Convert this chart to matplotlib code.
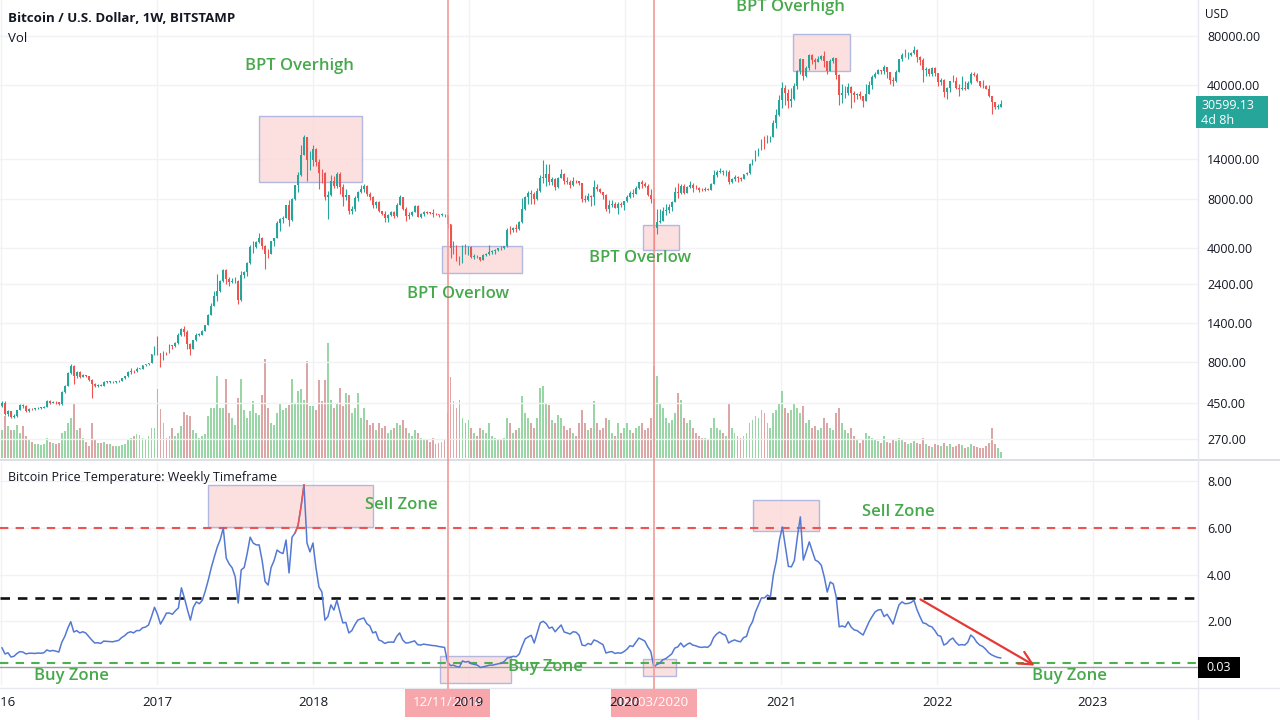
import numpy as np
import pandas as pd
import matplotlib
matplotlib.use("Agg")
import matplotlib.pyplot as plt
import matplotlib.dates as mdates
import matplotlib.transforms as mtrans
from matplotlib.patches import Rectangle, FancyArrowPatch
from matplotlib.lines import Line2D
from matplotlib.ticker import NullLocator

plt.rcParams['font.family'] = ['Open Sans', 'DejaVu Sans']

# ---------------- data (weekly BTC/USD, Bitstamp) ----------------
first_week = '2016-01-04'
first_open = 430

close_2016 = [448,387,403,368,376,407,438,433,400,413,411,417,420,420,428,460,450,459,455,441,525,574,685,762,660,700,650,665,657,625,590,570,582,574,608,607,607,602,612,617,640,657,700,710,704,730,730,765,775,790,895,998]
high_2016 = [462,460,410,404,385,410,445,445,440,420,420,420,425,424,432,466,468,462,460,456,535,580,700,780,765,705,705,680,670,660,630,600,590,585,612,612,612,610,615,620,643,660,705,740,715,745,740,770,780,795,900,1000]
low_2016 = [425,380,375,365,365,370,405,420,395,398,405,408,414,415,418,425,445,448,445,435,440,520,572,680,590,640,640,645,650,615,480,565,565,568,570,600,600,598,598,608,614,635,650,680,690,700,725,728,760,770,788,890]

close_2017 = [908,822,921,920,1015,999,1050,1170,1270,1230,1040,965,1090,1180,1180,1250,1350,1560,1760,2040,2200,2520,2950,2600,2480,2500,2500,1930,2750,2850,3230,4060,4080,4360,4600,4120,3690,3670,4400,4610,5700,6000,6150,7360,5950,8000,9700,11300,15000,19100,13900,13900]
high_2017 = [1150,915,935,925,1030,1020,1060,1200,1290,1330,1260,1050,1100,1210,1200,1260,1360,1570,1850,2200,2760,2550,2980,2990,2650,2620,2680,2560,2900,2900,3280,4180,4450,4400,4980,4680,4200,3950,4420,4620,5860,6150,6300,7400,7890,8100,9800,11700,17200,19700,19200,15800]
low_2017 = [880,750,820,880,915,970,990,1040,1150,1150,960,890,960,1080,1150,1180,1240,1350,1560,1760,1900,2150,2480,2400,2350,2450,2450,1830,1900,2620,2700,3200,3750,4000,4300,3950,2970,3500,3660,4150,4600,5100,5700,6100,5500,5900,7950,8900,11100,15000,10400,12000]

close_2018 = [16200,13600,11600,11500,8200,8500,10400,9600,11400,9500,8200,8450,6800,7000,8100,8900,9250,9650,8650,8250,7350,7700,6800,6500,6150,6350,6700,6300,7400,8200,7000,6300,6400,6700,7250,6250,6500,6700,6620,6600,6500,6450,6400,6400,6350,5600,4000,4100,3550,3250,4000,3900]
high_2018 = [17250,16500,14000,12200,11800,9000,11250,11100,11700,11700,9900,9200,8500,7250,8400,9000,9750,9950,9750,8900,8400,7750,7750,6800,6800,6500,6800,6800,7550,8500,8250,7150,6650,6800,7350,7400,6600,6800,6800,6700,7000,6600,6500,6550,6480,6400,5650,4400,4200,3600,4200,4250]
low_2018 = [12750,12800,9200,10000,7950,6000,8400,9300,9400,8600,7300,7900,6450,6500,6750,7800,8700,8900,8350,7950,7100,7050,6650,6400,5750,5800,6300,6150,6250,7400,6900,5900,6000,6300,6650,6200,6150,6300,6450,6450,6200,6400,6250,6300,6250,5300,3500,3700,3350,3150,3250,3700]

close_2019 = [4050,3550,3550,3530,3410,3620,3670,3800,3830,3900,4000,3990,4100,5200,5150,5300,5270,5750,7000,8200,8750,8550,8000,8950,10800,10800,11400,10200,10550,9500,10800,11400,10300,10150,9750,10400,10300,10000,8050,7900,8300,8200,9550,9200,8800,8500,7000,7400,7500,7100,7500,7400]
high_2019 = [4100,4100,3700,3650,3550,3700,3720,4200,3900,3950,4020,4100,4150,5350,5450,5400,5650,5850,8100,8300,8950,9100,8800,9300,11200,13850,13200,13150,10900,10700,10900,12300,11500,10950,10500,10900,10500,10300,10050,8500,8700,8450,10450,9950,9300,8850,8550,7850,7900,7650,7700,7650]
low_2019 = [3650,3500,3450,3500,3350,3400,3600,3650,3700,3700,3850,3900,3950,4050,4900,5000,5050,5200,5700,6900,7500,7500,7450,7950,8900,10000,9600,9700,9800,9100,9400,10800,9900,9850,9350,9600,10000,9800,7700,7700,7800,7300,7400,9000,8750,8000,6800,6550,7200,7050,6450,7150]

close_2020 = [7750,8200,8700,8600,9350,10150,9900,9670,8530,8000,5350,5830,5900,6770,6900,7120,7700,8900,8750,9680,8720,9450,9750,9330,9300,9100,9070,9250,9160,9900,11200,11700,11850,11650,11700,10250,10650,10950,10750,10670,11380,11500,13050,13750,15500,16000,18400,18200,19150,19250,23500,26300]
high_2020 = [7800,8450,9000,9200,9600,10200,10500,10200,9950,9200,8150,6950,6950,7200,7450,7450,7800,9450,10050,9900,9850,9600,10400,9990,9800,9500,9400,9450,9400,10100,12100,12000,12450,12100,12050,12050,10800,11200,11050,10950,11450,11750,13400,14000,15950,16500,18800,19500,19900,19400,24300,28400]
low_2020 = [6850,7650,8100,8250,8550,9250,9400,9550,8400,7600,3850,4900,5700,5900,6400,6600,6750,7650,8100,8550,8650,8700,9350,8900,9200,8850,8950,9000,9050,9150,9850,10900,11500,11200,11150,9850,10000,10400,10150,10400,10550,11200,11400,12950,13700,14800,15900,16250,17600,18000,19250,21900]

close_2021 = [32200,38200,36000,32100,33100,39250,48600,57500,45200,51200,61200,57400,55800,58200,60000,56200,49100,56600,58300,46400,34700,35700,35800,39100,35600,34700,35300,34300,31800,35400,39900,44600,47100,49300,48800,51800,48300,43000,42200,48200,57500,61500,60900,61300,63300,65500,59700,57300,49400,50100,46700,50800]
high_2021 = [34800,41950,40100,37850,38500,40950,49700,58350,58000,52600,61800,61700,58600,60100,61300,64850,56500,57900,59500,58800,46600,40900,39300,41300,39500,36600,35900,36800,34500,40550,42600,46200,48100,50500,49800,52900,52000,48350,45000,49500,57800,62900,67000,63700,64200,69000,66300,60000,59000,51800,50600,52000]
low_2021 = [26000,29000,30400,28800,29300,32300,38000,46800,43000,44900,49200,53700,50400,55300,57000,51300,47000,48800,55000,43800,30000,31000,33300,34800,28800,31500,32700,32700,29300,31800,35100,37800,44500,46500,46600,46500,44100,40500,39600,41700,48000,56600,59500,58000,60200,62300,55600,53300,42000,45700,45600,45600]

close_2022 = [47300,41800,43100,36300,38200,42400,42200,38400,37700,38400,37800,41300,46800,46400,42200,39700,39500,37700,34100,31300,29400,29500,30599.13]
high_2022 = [51900,47500,44400,43500,38900,42600,45800,44700,40900,45400,42300,42300,48100,48200,47400,42400,42900,40000,39900,34200,31400,30700,32400]
low_2022 = [45700,39700,40000,34000,33000,36300,41700,38000,34300,37200,37200,37600,40900,45200,41600,39200,38200,37600,33700,26700,28600,28700,29300]

# weekly volume (thousand BTC, approx.)
vol_2016 = [28,42,32,28,28,33,25,32,22,18,16,14,14,13,14,20,16,15,14,15,25,27,35,40,55,28,30,20,16,12,35,18,15,15,16,14,14,12,12,12,13,14,18,20,22,24,23,20,18,22,30,30]
vol_2017 = [69,49,35,20,22,30,22,25,32,46,43,42,28,25,20,22,24,42,50,50,82,50,50,79,45,40,33,60,79,48,40,47,57,45,43,63,99,50,35,33,45,54,48,50,53,79,55,67,69,58,97,52]
vol_2018 = [52,48,78,57,78,115,58,50,55,70,52,65,63,45,50,65,40,50,38,33,35,28,35,30,32,25,28,30,35,33,38,30,25,22,28,25,20,18,18,16,20,14,15,16,18,45,81,57,50,58,40,35]
vol_2019 = [38,30,25,22,30,28,25,35,22,20,18,18,20,40,35,25,28,30,62,45,40,35,30,40,70,72,55,53,38,35,43,40,32,28,30,25,22,35,48,35,28,30,57,35,28,30,40,38,25,22,35,25]
vol_2020 = [30,35,28,25,30,32,35,28,30,40,92,82,55,50,40,35,38,45,65,58,40,35,38,30,25,22,20,20,18,30,40,30,28,25,22,55,30,25,22,20,22,25,35,38,42,40,48,45,35,30,45,48]
vol_2021 = [55,67,50,45,48,55,50,45,52,35,38,30,32,28,30,40,35,30,28,45,50,35,28,25,30,22,18,15,18,25,22,20,18,17,15,22,16,15,18,17,20,18,16,14,15,17,15,14,20,14,12,11]
vol_2022 = [14,13,12,15,12,14,11,12,14,13,10,11,14,12,11,10,10,12,15,30,14,10,6]

# Bitcoin Price Temperature (weekly)
temp_2016 = [0.86,0.6,0.65,0.47,0.5,0.62,0.7,0.68,0.6,0.63,0.63,0.62,0.64,0.63,0.65,0.77,0.72,0.75,0.72,0.68,1.1,1.35,1.7,1.98,1.54,1.6,1.5,1.55,1.5,1.35,1.2,1.07,1.08,1.05,1.15,1.14,1.13,1.12,1.15,1.18,1.3,1.38,1.5,1.55,1.5,1.6,1.6,1.72,1.75,1.84,2.2,2.6]
temp_2017 = [2.3,1.88,2.1,2.35,2.35,2.3,2.45,2.57,3.43,3.0,2.5,2.05,2.6,2.83,2.75,2.9,3.3,3.77,4.3,4.75,5.18,5.5,6.0,4.7,4.45,4.28,3.9,2.78,4.2,4.3,4.9,5.6,5.35,5.27,5.27,4.6,3.7,3.55,4.3,4.6,5.05,4.95,4.9,5.48,4.07,5.6,5.78,6.1,6.9,7.84,5.35,4.97]
temp_2018 = [5.35,4.3,3.47,3.25,2.05,2.2,2.7,2.48,2.9,2.4,1.93,1.95,1.5,1.6,1.85,2.05,2.1,2.14,1.9,1.8,1.5,1.55,1.2,1.15,1.05,1.1,1.11,1.1,1.35,1.5,1.2,1.07,1.08,1.12,1.16,1.0,0.98,1.02,1.0,0.98,0.96,0.95,0.92,0.9,0.88,0.26,0.1,0.12,0.06,0.04,0.3,0.25]
temp_2019 = [0.28,0.18,0.15,0.12,0.02,0.05,0.08,0.12,0.12,0.15,0.18,0.2,0.28,0.43,0.45,0.5,0.48,0.6,0.95,1.25,1.33,1.4,1.07,1.5,1.93,2.0,1.9,1.7,1.75,1.55,1.7,1.84,1.54,1.5,1.45,1.55,1.53,1.4,0.98,0.95,1.05,1.0,1.2,1.15,1.07,1.0,0.64,0.68,0.7,0.62,0.65,0.63]
temp_2020 = [0.7,0.8,0.95,0.92,1.1,1.28,1.22,1.15,0.9,0.7,0.04,0.15,0.2,0.35,0.4,0.5,0.6,0.85,0.9,1.07,0.9,1.0,1.07,0.98,0.95,0.9,0.88,0.9,0.88,1.0,1.3,1.45,1.54,1.45,1.4,1.07,1.15,1.2,1.15,1.12,1.3,1.35,1.75,1.98,2.4,2.7,3.0,3.0,3.12,3.05,4.0,4.6]
temp_2021 = [5.48,6.04,5.2,4.35,4.33,4.6,5.6,6.47,4.62,5.0,5.4,5.0,4.62,4.55,4.4,3.9,3.25,3.68,3.6,3.04,1.76,1.8,1.75,1.98,1.75,1.63,1.6,1.5,1.41,1.7,1.98,2.2,2.4,2.48,2.5,2.2,2.3,2.1,1.88,2.3,2.7,2.83,2.75,2.76,2.8,2.9,2.5,2.2,1.93,1.9,1.8,1.76]
temp_2022 = [1.6,1.4,1.35,0.98,1.05,1.2,1.28,1.1,0.98,1.0,0.98,1.1,1.41,1.3,1.1,0.98,0.92,0.8,0.65,0.56,0.5,0.45,0.43]

sell_level = 6.0
mid_level = 3.0
buy_level = 0.2
current_level = 0.03
price_ticks = [270, 450, 800, 1400, 2400, 4000, 8000, 14000, 40000, 80000]
temp_ticks = [2, 4, 6, 8]
event_dates = ['2018-11-12', '2020-03-09']
event_labels = ['12/11/2018', '09/03/2020']
years = [2016, 2017, 2018, 2019, 2020, 2021, 2022, 2023]
countdown = '4d 8h'

# ---------------- assemble ----------------
close = np.array(close_2016 + close_2017 + close_2018 + close_2019 + close_2020 + close_2021 + close_2022, float)
high = np.array(high_2016 + high_2017 + high_2018 + high_2019 + high_2020 + high_2021 + high_2022, float)
low = np.array(low_2016 + low_2017 + low_2018 + low_2019 + low_2020 + low_2021 + low_2022, float)
vol = np.array(vol_2016 + vol_2017 + vol_2018 + vol_2019 + vol_2020 + vol_2021 + vol_2022, float)
temp = np.array(temp_2016 + temp_2017 + temp_2018 + temp_2019 + temp_2020 + temp_2021 + temp_2022, float)
N = len(close)
dates = pd.date_range(first_week, periods=N, freq='7D')
xd = mdates.date2num(dates)
opn = np.concatenate([[first_open], close[:-1]])
high = np.maximum(high, np.maximum(opn, close))
low = np.minimum(low, np.minimum(opn, close))
up = close >= opn

UP_C, DN_C = '#26a69a', '#ef5350'
TXT = '#131722'
GRID = '#f0f2f6'
ZONE_G = '#47a94b'

W, H = 1280, 720
fig = plt.figure(figsize=(12.8, 7.2), dpi=100)
fig.patch.set_facecolor('white')

def fx(px):
    return px / W

def fy(py):
    return 1 - py / H

PR = 1198
ax_vol = fig.add_axes([0, fy(458), fx(PR), 458 / H])
ax_p = fig.add_axes([0, fy(458), fx(PR), 458 / H], sharex=ax_vol)
ax_p.patch.set_alpha(0)
ax_t = fig.add_axes([0, fy(685), fx(PR), (685 - 462) / H], sharex=ax_vol)

wk = 7.0
ax_vol.set_xlim(xd[0] - 0.67 * wk, xd[0] + 400 * wk)

year_x = [mdates.date2num(pd.Timestamp(f'{y}-01-01')) for y in years]

for a in (ax_vol, ax_p, ax_t):
    for s in a.spines.values():
        s.set_visible(False)
    a.tick_params(axis='x', which='both', bottom=False, labelbottom=False, top=False)

# volume
ax_vol.bar(xd, vol, width=4.4, color=np.where(up, '#98d6a6', '#dca6a6'), linewidth=0, zorder=2)
ax_vol.set_ylim(0, vol.max() * 458 / 115)
ax_vol.set_yticks([])
for yx in year_x:
    ax_vol.axvline(yx, color=GRID, lw=1, zorder=0)

# price
ax_p.set_yscale('log')
ax_p.set_ylim(206.9, 132970)
ax_p.yaxis.set_minor_locator(NullLocator())
ax_p.yaxis.tick_right()
ax_p.set_yticks(price_ticks)
ax_p.set_yticklabels([f'{v:.2f}' for v in price_ticks])
ax_p.tick_params(axis='y', which='both', length=0, pad=6.5, labelsize=9, labelcolor=TXT)
for v in price_ticks:
    ax_p.axhline(v, color=GRID, lw=1, zorder=0)
cols = np.where(up, UP_C, DN_C)
ax_p.vlines(xd, low, high, colors=cols, lw=0.8, zorder=3)
b_lo = np.minimum(opn, close)
b_hi = np.maximum(np.maximum(opn, close), b_lo * 1.006)
ax_p.bar(xd, b_hi - b_lo, bottom=b_lo, width=4.4, color=cols, linewidth=0, zorder=4)

# temperature
ax_t.set_ylim(-0.73, 8.82)
ax_t.yaxis.tick_right()
ax_t.set_yticks(temp_ticks)
ax_t.set_yticklabels([f'{v:.2f}' for v in temp_ticks])
ax_t.tick_params(axis='y', length=0, pad=6.5, labelsize=9, labelcolor=TXT)
for v in temp_ticks:
    ax_t.axhline(v, color=GRID, lw=1, zorder=0)
for yx in year_x:
    ax_t.axvline(yx, color=GRID, lw=1, zorder=0)
ax_t.axhline(sell_level, color='#ef5350', lw=1.5, ls=(0, (4, 3.5)), zorder=2)
ax_t.axhline(mid_level, color='#111111', lw=1.9, ls=(0, (3.6, 3)), zorder=2)
ax_t.axhline(buy_level, color='#4caf50', lw=1.5, ls=(0, (4, 3.5)), zorder=2)
ax_t.axhline(current_level, color='#9e9e9e', lw=1.0, zorder=2)
ax_t.plot(xd, temp, color='#5479d3', lw=1.1, zorder=3)
ax_t.plot(xd[98:102], temp[98:102], color='#ef5350', lw=1.1, zorder=4)

# annotation boxes (pixel layout)
def box(ax, x0, y0, x1, y1):
    ax.add_patch(Rectangle((fx(x0), fy(y1)), (x1 - x0) / W, (y1 - y0) / H,
                           transform=fig.transFigure, facecolor='#fbd6d6', alpha=0.75,
                           edgecolor='#9aa6dc', lw=1.0, zorder=1.5))

box(ax_p, 259, 116, 362, 182)
box(ax_p, 442, 246, 522, 273)
box(ax_p, 643, 225, 679, 250)
box(ax_p, 793, 34, 850, 71)
box(ax_t, 208, 485, 373, 527)
box(ax_t, 440, 656, 511, 683)
box(ax_t, 643, 659, 676, 676)
box(ax_t, 753, 500, 819, 531)

def label(x, y, s):
    fig.text(fx(x), fy(y), s, color=ZONE_G, fontsize=12, weight='semibold',
             ha='center', va='center', zorder=6)

label(299, 66, 'BPT Overhigh')
label(458, 294, 'BPT Overlow')
label(640, 258, 'BPT Overlow')
label(790, 7, 'BPT Overhigh')
label(401, 505, 'Sell Zone')
label(898, 512, 'Sell Zone')
label(545, 667, 'Buy Zone')
label(71, 676, 'Buy Zone')
label(1069, 676, 'Buy Zone')

fig.add_artist(FancyArrowPatch(posA=(fx(918), fy(598)), posB=(fx(1037), fy(667)),
                               transform=fig.transFigure, arrowstyle='->', mutation_scale=24,
                               color='#e53935', lw=1.6, zorder=7))

# event lines + date labels
blend = mtrans.blended_transform_factory(ax_t.transData, fig.transFigure)
for d, lab in zip(event_dates, event_labels):
    xe = mdates.date2num(pd.Timestamp(d))
    fig.add_artist(Line2D([xe, xe], [fy(0), fy(690)], transform=blend, color='#f49a9a', lw=1.2, zorder=3))
    fig.text(xe, fy(703), lab, transform=blend, ha='center', va='center', color='white', fontsize=9.5,
             bbox=dict(boxstyle='square,pad=0.6', fc='#f7a6ab', ec='none'), zorder=4)

for y, yx in zip(years, year_x):
    fig.text(yx, fy(703), str(y), transform=blend, ha='center', va='center', color=TXT, fontsize=9.5, zorder=5)

# frame lines
fig.add_artist(Line2D([0, 1], [fy(460), fy(460)], transform=fig.transFigure, color='#d6d9e0', lw=1.2))
fig.add_artist(Line2D([0, 1], [fy(688), fy(688)], transform=fig.transFigure, color='#e6e8ee', lw=1.0))
fig.add_artist(Line2D([fx(PR), fx(PR)], [fy(0), fy(720)], transform=fig.transFigure, color='#e6e8ee', lw=1.0))

# titles
fig.text(fx(8), fy(18), 'Bitcoin / U.S. Dollar, 1W, BITSTAMP', fontsize=9.5, weight='bold', color=TXT, va='center')
fig.text(fx(8), fy(38), 'Vol', fontsize=9.5, color=TXT, va='center')
fig.text(fx(8), fy(478), 'Bitcoin Price Temperature: Weekly Timeframe', fontsize=9, color=TXT, va='center')
fig.text(fx(1205), fy(15), 'USD', fontsize=8.5, color=TXT, va='center')

# last-price label
lp = close[-1]
frac = (np.log(lp) - np.log(206.9)) / (np.log(132970) - np.log(206.9))
ypx = 458 - 458 * frac
fig.patches.append(Rectangle((fx(1196), fy(ypx + 24)), 72 / W, 32 / H, transform=fig.transFigure,
                             facecolor=UP_C, edgecolor='none', zorder=5))
fig.text(fx(1201), fy(ypx + 1), f'{lp:.2f}', color='white', fontsize=9, va='center', zorder=6)
fig.text(fx(1201), fy(ypx + 16), countdown, color='white', fontsize=9, va='center', zorder=6)

# current temperature label
fr2 = (current_level + 0.73) / (8.82 + 0.73)
ypx2 = 685 - 223 * fr2
fig.patches.append(Rectangle((fx(1198), fy(ypx2 + 10.5)), 42 / W, 21 / H, transform=fig.transFigure,
                             facecolor='black', edgecolor='none', zorder=5))
fig.text(fx(1219), fy(ypx2), f'{current_level:.2f}', color='white', fontsize=9, ha='center', va='center', zorder=6)

fig.savefig('out.png', dpi=100, facecolor='white')
